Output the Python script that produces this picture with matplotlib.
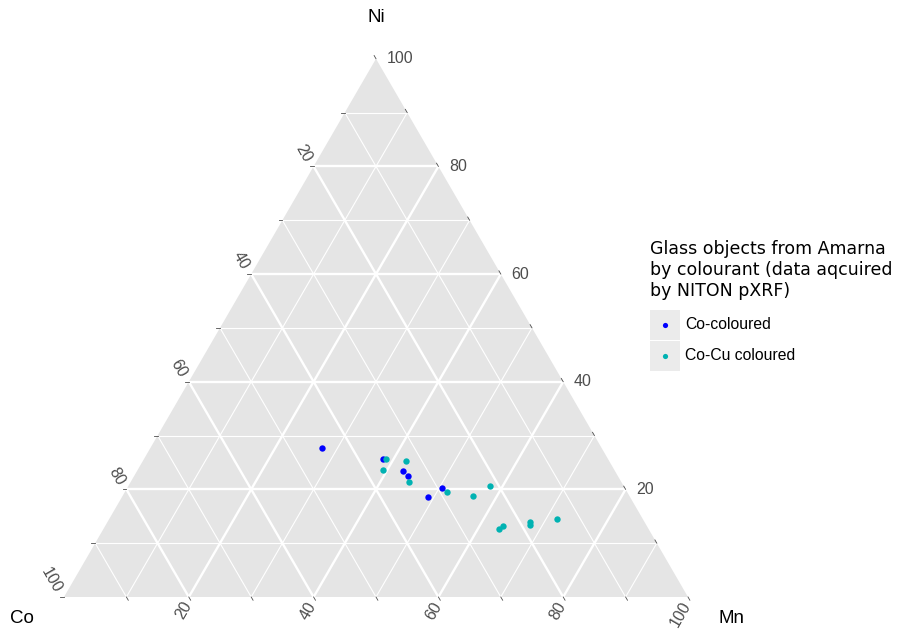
import numpy as np
import matplotlib
matplotlib.use("Agg")
import matplotlib.pyplot as plt
from matplotlib.patches import Polygon, Rectangle

# %% data (percent)
co_blue = [44.8, 36.0, 33.9, 33.7, 29.2, 32.4]
ni_blue = [27.6, 25.7, 23.4, 22.5, 20.3, 18.5]
mn_blue = [27.6, 38.3, 42.7, 43.8, 50.5, 49.1]

co_cyan = [35.6, 32.5, 37.1, 34.0, 28.8, 25.1, 21.4, 23.1, 24.0, 18.4, 18.6, 13.7]
ni_cyan = [25.6, 25.3, 23.6, 21.4, 19.6, 18.8, 20.7, 13.2, 12.6, 13.9, 13.3, 14.5]
mn_cyan = [38.8, 42.2, 39.3, 44.6, 51.6, 56.1, 57.9, 63.7, 63.4, 67.7, 68.1, 71.8]

ticks = [20, 40, 60, 80, 100]
grid_levels = [10, 20, 30, 40, 50, 60, 70, 80, 90]
legend_labels = ["Co-coloured", "Co-Cu coloured"]
legend_title = "Glass objects from Amarna\nby colourant (data aqcuired\nby NITON pXRF)"

col_blue = "#0000FF"
col_cyan = "#00B2B2"
S3 = np.sqrt(3) / 2


def tern(co, ni, mn):
    # ternary -> cartesian (base 0..100, top vertex = Ni)
    co, ni, mn = np.asarray(co, float), np.asarray(ni, float), np.asarray(mn, float)
    tot = co + ni + mn
    return 100 * (mn + ni / 2) / tot, 100 * ni / tot * S3


fig = plt.figure(figsize=(9.07, 6.29), dpi=100)
ax = fig.add_axes([0, 0, 1, 1])
# pixel layout: base from x=64 to 688 at y=597, apex at y=59
ax.set_xlim(-64 / 6.24, (907 - 64) / 6.24)
ax.set_ylim(-(629 - 597) / 6.215, 597 / 6.215)
ax.axis("off")

# panel
corners = np.array([tern(100, 0, 0), tern(0, 100, 0), tern(0, 0, 100)])
ax.add_patch(Polygon(corners, closed=True, fc="#E5E5E5", ec="none", zorder=0))

# grid
for v in grid_levels:
    lw = 1.7 if v % 20 == 0 else 0.8
    segs = [
        (tern(100 - v, v, 0), tern(0, v, 100 - v)),   # Ni const
        (tern(v, 100 - v, 0), tern(v, 0, 100 - v)),   # Co const
        (tern(100 - v, 0, v), tern(0, 100 - v, v)),   # Mn const
    ]
    for (x0, y0), (x1, y1) in segs:
        ax.plot([x0, x1], [y0, y1], color="white", lw=lw, zorder=1,
                solid_capstyle="butt")

# ticks and tick labels
tick_col = "#4D4D4D"
tl = 0.6
for v in [10, 20, 30, 40, 50, 60, 70, 80, 90, 100]:
    # Ni on right edge
    x, y = tern(0, v, 100 - v)
    ax.plot([x - tl * 0.5, x], [y + tl * S3, y], color=tick_col, lw=0.6, zorder=2)
    # Co on left edge
    x, y = tern(v, 100 - v, 0)
    ax.plot([x - tl, x], [y, y], color=tick_col, lw=0.6, zorder=2)
    # Mn on bottom edge
    x, y = tern(100 - v, 0, v)
    ax.plot([x + tl * 0.5, x], [y - tl * S3, y], color=tick_col, lw=0.6, zorder=2)

lab_font = dict(family="Liberation Sans", fontsize=11.5, color=tick_col)
for v in ticks:
    x, y = tern(0, v, 100 - v)
    ax.text(x + 1.7, y, str(v), ha="left", va="center", **lab_font)
    x, y = tern(v, 100 - v, 0)
    ax.text(x - 0.9, y + 0.9, str(v), ha="right", va="center",
            rotation=-60, rotation_mode="anchor", **lab_font)
    x, y = tern(100 - v, 0, v)
    ax.text(x - 0.1, y - 0.95, str(v), ha="right", va="center",
            rotation=60, rotation_mode="anchor", **lab_font)

# axis titles
ttl_font = dict(family="Liberation Sans", fontsize=13.5, color="black")
xt, yt = tern(0, 100, 0)
ax.text(xt, yt + 6.6, "Ni", ha="center", va="center", **ttl_font)
xl, yl = tern(100, 0, 0)
ax.text(xl - 6.7, yl - 3.4, "Co", ha="center", va="center", **ttl_font)
xr, yr = tern(0, 0, 100)
ax.text(xr + 6.9, yr - 3.4, "Mn", ha="center", va="center", **ttl_font)

# data points
xb, yb = tern(co_blue, ni_blue, mn_blue)
xc, yc = tern(co_cyan, ni_cyan, mn_cyan)
ax.scatter(xb, yb, s=21, color=col_blue, lw=0, zorder=3)
ax.scatter(xc, yc, s=21, color=col_cyan, lw=0, zorder=3)

# legend (drawn in pixel space)
lg = fig.add_axes([0, 0, 1, 1])
lg.set_xlim(0, 907)
lg.set_ylim(629, 0)
lg.axis("off")
lg.text(650, 270, legend_title, ha="left", va="center", fontsize=12.5,
        family="DejaVu Sans", linespacing=1.2)
for i, (lab, c) in enumerate(zip(legend_labels, [col_blue, col_cyan])):
    y0 = 310 + i * 31
    lg.add_patch(Rectangle((650, y0), 30, 29.5, fc="#EBEBEB", ec="none"))
    lg.scatter([665], [y0 + 14.5], s=14, color=c, lw=0)
    lg.text(685, y0 + 14.5, lab, ha="left", va="center",
            family="Liberation Sans", fontsize=11.3)

fig.savefig("out.png", dpi=100)
